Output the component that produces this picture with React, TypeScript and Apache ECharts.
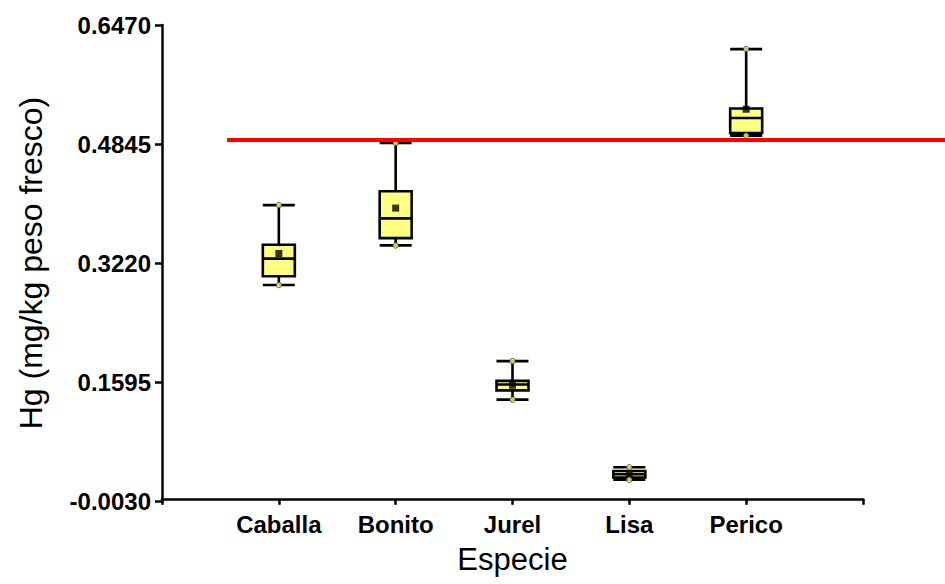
import React, { useEffect, useRef } from 'react';
import * as echarts from 'echarts';

const categories = ['Caballa', 'Bonito', 'Jurel', 'Lisa', 'Perico'];
const minVals = [0.292, 0.346, 0.1355, 0.026, 0.496];
const q1Vals = [0.304, 0.356, 0.148, 0.029, 0.4995];
const medianVals = [0.328, 0.383, 0.156, 0.0335, 0.52];
const q3Vals = [0.347, 0.42, 0.161, 0.038, 0.533];
const maxVals = [0.401, 0.486, 0.188, 0.043, 0.614];
const meanVals = [0.335, 0.397, 0.155, 0.033, 0.532];
const limitValue = 0.49;
const yTicks = [-0.003, 0.1595, 0.322, 0.4845, 0.647];
const yMin = -0.003;
const yMax = 0.647;

const FONT = '"Liberation Sans", Arial, sans-serif';

export default function App() {
  const ref = useRef<HTMLDivElement>(null);
  useEffect(() => {
    const chart = echarts.init(ref.current!, null, { renderer: 'svg' });
    const axisData = [' ', ...categories, '  '];
    const boxData = categories.map((c, i) => [c, minVals[i], q1Vals[i], medianVals[i], q3Vals[i], maxVals[i]]);
    const extremes: any[] = [];
    categories.forEach((c, i) => {
      extremes.push([c, minVals[i]]);
      extremes.push([c, maxVals[i]]);
    });
    const means = categories.map((c, i) => [c, meanVals[i]]);
    const option: any = {
      animation: false,
      backgroundColor: '#fff',
      textStyle: { fontFamily: FONT },
      grid: { left: 162, right: 82, top: 25, bottom: 83 },
      xAxis: {
        type: 'category',
        data: axisData,
        boundaryGap: false,
        name: 'Especie',
        nameLocation: 'middle',
        nameGap: 43,
        nameTextStyle: { fontSize: 31, color: '#000', fontFamily: FONT },
        axisLine: { lineStyle: { color: '#000', width: 2.5 } },
        axisTick: { show: true, interval: 0, length: 6, lineStyle: { color: '#000', width: 2.5 } },
        axisLabel: { interval: 0, margin: 11, fontSize: 24, fontWeight: 'bold', color: '#000', fontFamily: FONT },
        splitLine: { show: false },
      },
      yAxis: {
        type: 'value',
        min: yMin,
        max: yMax,
        name: 'Hg (mg/kg peso fresco)',
        nameLocation: 'middle',
        nameGap: 115,
        nameTextStyle: { fontSize: 32, color: '#000', fontFamily: FONT },
        axisLine: { show: true, lineStyle: { color: '#000', width: 2.5 } },
        axisTick: { show: true, length: 7, customValues: yTicks, lineStyle: { color: '#000', width: 2.5 } },
        axisLabel: {
          customValues: yTicks,
          margin: 11,
          fontSize: 24,
          fontWeight: 'bold',
          color: '#000',
          fontFamily: FONT,
          formatter: (v: number) => v.toFixed(4),
        },
        splitLine: { show: false },
      },
      series: [
        {
          type: 'boxplot',
          data: boxData,
          encode: { x: 0, y: [1, 2, 3, 4, 5] },
          boxWidth: [32, 32],
          itemStyle: { color: '#FFFF80', borderColor: '#000', borderWidth: 2.6 },
          z: 2,
        },
        {
          type: 'scatter',
          data: means,
          symbol: 'rect',
          symbolSize: 7,
          itemStyle: { color: '#000' },
          z: 3,
        },
        {
          type: 'scatter',
          data: extremes,
          symbol: 'circle',
          symbolSize: 5.5,
          itemStyle: { color: '#FFFF70', borderColor: '#333', borderWidth: 1 },
          z: 4,
        },
        {
          type: 'custom',
          clip: false,
          data: [[0, limitValue]],
          renderItem: (params: any, api: any) => {
            const p = api.coord([0, api.value(1)]);
            const band = api.size([1, 0])[0];
            return {
              type: 'line',
              shape: { x1: p[0] + band * 0.557, y1: p[1], x2: api.getWidth(), y2: p[1] },
              style: { stroke: '#FF0000', lineWidth: 4 },
            };
          },
          z: 5,
        },
      ],
    };
    chart.setOption(option);
    return () => chart.dispose();
  }, []);
  return (
    <div
      ref={ref}
      style={{ position: 'absolute', left: 0, top: 0, width: 945, height: 584, background: '#fff' }}
    />
  );
}
